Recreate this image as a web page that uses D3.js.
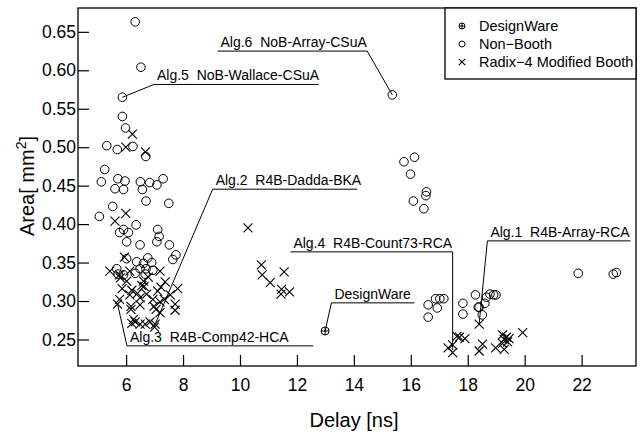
<!DOCTYPE html>
<html>
<head>
<meta charset="utf-8">
<script src="https://cdn.jsdelivr.net/npm/d3@7"></script>
<style>
    body { margin: 0; background: #fff; }
    text { font-family: "Liberation Sans", Arial, sans-serif; fill: #000; }
</style>
</head>
<body>
<svg id="chart" width="642" height="436"></svg>
<script>

// [delay ns, area mm2]
const designWare = [[12.99, 0.261]];

const nonBooth = [
    [6.32,0.663],[6.52,0.604],[5.87,0.565],[5.87,0.540],[5.98,0.525],[5.32,0.502],[5.69,0.497],
    [6.24,0.501],[6.69,0.488],[5.25,0.471],[5.13,0.455],[5.71,0.459],[5.96,0.456],[5.61,0.446],
    [5.91,0.445],[6.50,0.455],[6.83,0.454],[6.57,0.445],[7.08,0.451],[7.30,0.459],[6.70,0.430],
    [7.50,0.427],[5.53,0.423],[5.06,0.410],[6.35,0.399],[5.77,0.389],[5.91,0.393],[6.08,0.389],
    [6.02,0.377],[6.49,0.373],[7.11,0.393],[7.16,0.384],[7.08,0.377],[7.52,0.373],[7.75,0.360],
    [7.64,0.354],[6.02,0.355],[6.37,0.351],[6.61,0.349],[6.76,0.356],[6.90,0.350],[5.67,0.342],
    [6.49,0.342],[6.70,0.342],[6.94,0.340],[5.91,0.334],[6.32,0.336],[6.67,0.335],[5.72,0.335],
    [15.35,0.568],[15.76,0.481],[16.13,0.487],[15.99,0.465],[16.09,0.430],[16.55,0.442],[16.53,0.437],
    [16.46,0.420],[21.88,0.336],[23.11,0.335],[23.22,0.337],[16.61,0.295],[16.61,0.279],[16.93,0.291],
    [16.87,0.303],[17.02,0.303],[17.16,0.303],[17.83,0.297],[17.83,0.283],[18.27,0.308],[18.37,0.292],
    [18.40,0.292],[18.60,0.297],[18.66,0.305],[18.78,0.309],[18.91,0.308],[18.99,0.308],[18.51,0.282]
];

const radix4Booth = [
    [6.22,0.517],[5.99,0.500],[6.68,0.494],[5.99,0.414],[5.61,0.404],[5.94,0.357],[5.43,0.339],
    [5.77,0.334],[6.13,0.339],[7.19,0.339],[6.02,0.326],[6.61,0.326],[6.78,0.331],[7.37,0.325],
    [5.86,0.316],[6.20,0.314],[6.63,0.319],[7.22,0.318],[7.11,0.313],[7.81,0.316],[6.40,0.310],
    [6.13,0.308],[6.72,0.309],[7.55,0.308],[5.77,0.302],[6.94,0.302],[6.49,0.304],[7.19,0.299],
    [7.34,0.302],[5.70,0.296],[6.17,0.293],[6.49,0.295],[6.98,0.293],[7.72,0.296],[6.17,0.289],
    [7.05,0.289],[7.72,0.288],[7.19,0.285],[6.26,0.276],[6.32,0.273],[6.49,0.270],[6.67,0.270],
    [6.84,0.273],[7.02,0.270],[7.00,0.266],[6.20,0.271],[6.55,0.320],[5.80,0.330],
    [10.28,0.395],[10.75,0.347],[10.78,0.334],[11.06,0.324],[11.55,0.338],[11.46,0.315],[11.44,0.309],
    [11.74,0.312],
    [18.40,0.270],[17.31,0.239],[17.47,0.243],[17.47,0.233],[17.62,0.254],[17.71,0.253],[17.90,0.251],
    [18.40,0.235],[18.52,0.244],[18.98,0.239],[19.22,0.256],[19.28,0.250],[19.36,0.253],[19.45,0.251],
    [19.22,0.245],[19.28,0.237],[19.93,0.259],[19.40,0.247]
];

const xTicks = [6, 8, 10, 12, 14, 16, 18, 20, 22];
const yTicks = [0.25, 0.30, 0.35, 0.40, 0.45, 0.50, 0.55, 0.60, 0.65];

const legendLabels = ['DesignWare', 'Non\u2212Booth', 'Radix\u22124 Modified Booth'];

// label line from x0 to x1 at height y, leader to (px, py) from its start or end
const notes = [
    {text: 'Alg.6  NoB-Array-CSuA',   x0: 9.21,  x1: 14.47, y: 0.625,  px: 15.35, py: 0.568, from: 'end'},
    {text: 'Alg.5  NoB-Wallace-CSuA', x0: 6.98,  x1: 12.76, y: 0.5816, px: 5.87,  py: 0.565, from: 'start'},
    {text: 'Alg.2  R4B-Dadda-BKA',    x0: 9.04,  x1: 14.12, y: 0.4454, px: 7.00,  py: 0.268, from: 'start'},
    {text: 'Alg.3  R4B-Comp42-HCA',   x0: 6.03,  x1: 12.57, y: 0.2417, px: 5.70,  py: 0.296, from: 'start'},
    {text: 'Alg.4  R4B-Count73-RCA',  x0: 11.77, x1: 17.47, y: 0.3639, px: 17.47, py: 0.236, from: 'end'},
    {text: 'Alg.1  R4B-Array-RCA',    x0: 18.69, x1: 23.72, y: 0.3782, px: 18.40, py: 0.270, from: 'start'},
    {text: 'DesignWare',              x0: 13.21, x1: 16.13, y: 0.2976, px: 12.99, py: 0.261, from: 'start'}
];

let svg = d3.select('#chart');

let x = d3.scaleLinear().domain([4.31, 23.91]).range([78, 636]);
let y = d3.scaleLinear().domain([0.2155, 0.681]).range([366, 8]);

// axes, ticks pointing inwards
let xAxis = svg.append('g')
    .attr('transform', 'translate(0,366)')
    .call(d3.axisBottom(x).tickValues(xTicks).tickSizeInner(-11).tickSizeOuter(0).tickPadding(20));
let yAxis = svg.append('g')
    .attr('transform', 'translate(78,0)')
    .call(d3.axisLeft(y).tickValues(yTicks).tickFormat(d3.format('.2f')).tickSizeInner(-11).tickSizeOuter(0).tickPadding(2));

[xAxis, yAxis].forEach(a => {
    a.select('.domain').remove();
    a.selectAll('.tick line').attr('stroke', '#000').attr('stroke-width', 1.2);
    a.selectAll('.tick text').style('font-size', '17.5px');
});
xAxis.selectAll('.tick text').attr('dy', '0.3em');

svg.append('rect')
    .attr('x', 78).attr('y', 8)
    .attr('width', 636 - 78).attr('height', 366 - 8)
    .attr('fill', 'none').attr('stroke', '#000').attr('stroke-width', 1.3);

svg.append('text')
    .attr('x', 354).attr('y', 427)
    .attr('text-anchor', 'middle')
    .style('font-size', '20px')
    .text('Delay [ns]');

let yTitle = svg.append('text')
    .attr('transform', 'translate(34,186) rotate(-90)')
    .attr('text-anchor', 'middle')
    .style('font-size', '20px');
yTitle.append('tspan').text('Area[ mm');
yTitle.append('tspan').attr('dy', -8).style('font-size', '14px').text('2');
yTitle.append('tspan').attr('dy', 8).text(']');

// annotations
let note = svg.append('g').selectAll('g').data(notes).enter().append('g');
note.append('line')
    .attr('x1', d => x(d.x0)).attr('x2', d => x(d.x1))
    .attr('y1', d => y(d.y)).attr('y2', d => y(d.y))
    .attr('stroke', '#000').attr('stroke-width', 1);
note.append('line')
    .attr('x1', d => x(d.from === 'end' ? d.x1 : d.x0)).attr('y1', d => y(d.y))
    .attr('x2', d => x(d.px)).attr('y2', d => y(d.py))
    .attr('stroke', '#000').attr('stroke-width', 1);
note.append('text')
    .attr('x', d => x(d.x0) + 3)
    .attr('y', d => y(d.y) - 4)
    .style('font-size', '14px')
    .style('white-space', 'pre')
    .attr('xml:space', 'preserve')
    .text(d => d.text);

// markers
const circleMark = (sel, r) => sel.append('circle').attr('r', r)
    .attr('fill', 'none').attr('stroke', '#000').attr('stroke-width', 1);
const crossMark = (sel, s) => sel.append('path')
    .attr('d', `M${-s},${-s}L${s},${s}M${-s},${s}L${s},${-s}`)
    .attr('fill', 'none').attr('stroke', '#000').attr('stroke-width', 1.1);
const plusCircleMark = (sel, r) => {
    circleMark(sel, r);
    sel.append('path').attr('d', `M${-r},0H${r}M0,${-r}V${r}`)
        .attr('stroke', '#000').attr('stroke-width', 1);
};

let points = svg.append('g');
points.selectAll('g.nb').data(nonBooth).enter().append('g')
    .attr('class', 'nb')
    .attr('transform', d => `translate(${x(d[0])},${y(d[1])})`)
    .call(circleMark, 4.3);
points.selectAll('g.r4').data(radix4Booth).enter().append('g')
    .attr('class', 'r4')
    .attr('transform', d => `translate(${x(d[0])},${y(d[1])})`)
    .call(crossMark, 4.5);
points.selectAll('g.dw').data(designWare).enter().append('g')
    .attr('class', 'dw')
    .attr('transform', d => `translate(${x(d[0])},${y(d[1])})`)
    .call(plusCircleMark, 4);

// legend
let legend = svg.append('g');
legend.append('rect')
    .attr('x', 445).attr('y', 8).attr('width', 636 - 445).attr('height', 71)
    .attr('fill', '#fff').attr('stroke', '#000').attr('stroke-width', 1.3);
let item = legend.selectAll('g.item').data(legendLabels).enter().append('g')
    .attr('class', 'item')
    .attr('transform', (d, i) => `translate(462,${26 + i * 18})`);
item.append('text')
    .attr('x', 17).attr('dy', '0.35em')
    .style('font-size', '14.5px')
    .text(d => d);
item.filter((d, i) => i === 0).call(plusCircleMark, 3);
item.filter((d, i) => i === 1).call(circleMark, 3);
item.filter((d, i) => i === 2).call(crossMark, 3.2);

</script>
</body>
</html>
